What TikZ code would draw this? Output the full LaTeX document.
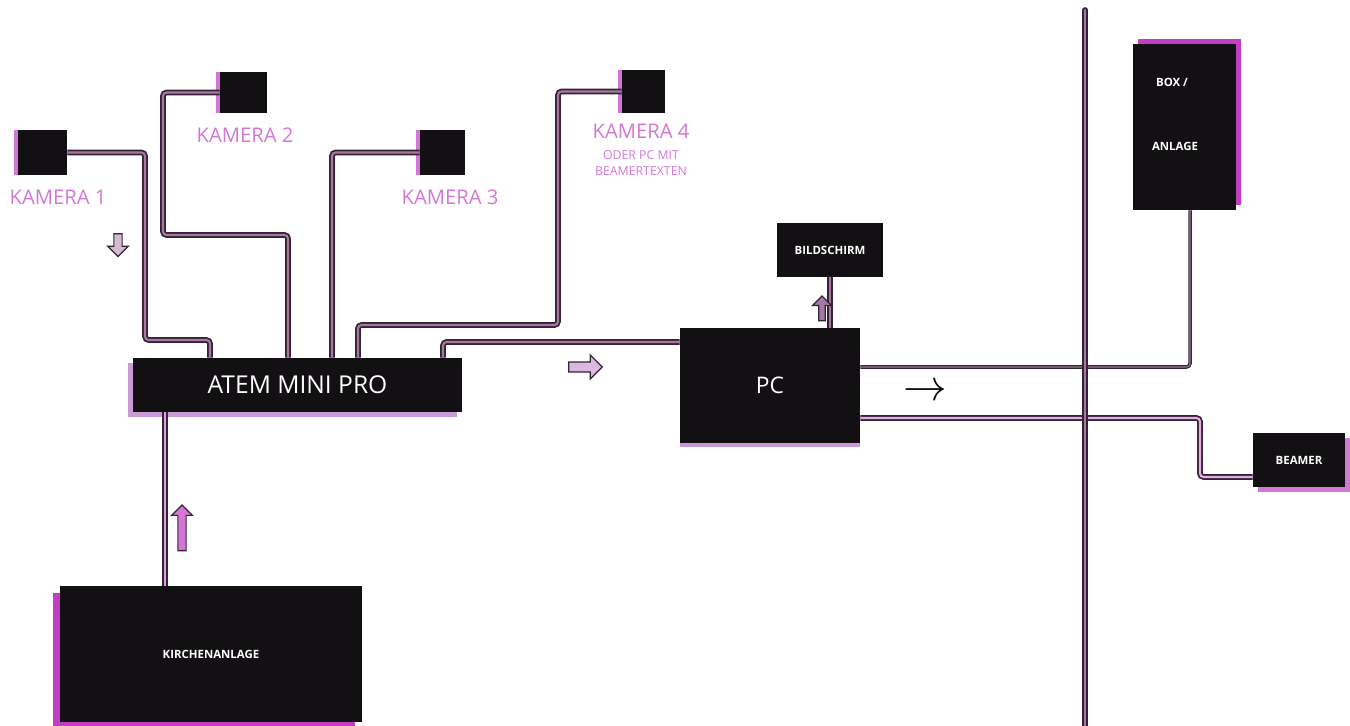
\documentclass[tikz,border=0pt]{standalone}
\usepackage{fontspec}
\setmainfont{Open Sans}
\usetikzlibrary{positioning,shadows,shapes.arrows}
\definecolor{boxblack}{HTML}{121012}
\definecolor{hotpink}{HTML}{C23CC4}
\definecolor{lilac}{HTML}{C99AD6}
\definecolor{campink}{HTML}{D277D6}
\definecolor{cabledark}{HTML}{362234}
\definecolor{cablelight}{HTML}{A57AA2}

\begin{document}
\begin{tikzpicture}[x=0.02cm,y=-0.02cm,>=stealth,font=\small,
  dev/.style={fill=boxblack,text=white,inner sep=0pt,align=center},
  cam/.style={fill=boxblack,inner sep=0pt,general shadow={fill=campink,shadow xshift=-2.5pt}},
  camlabel/.style={text=campink,font=\fontsize{11.5}{13}\selectfont,align=center},
  tiny/.style={font=\fontsize{6.5}{8}\selectfont\bfseries},
  cable/.style={draw=cabledark,double=cablelight,double distance=1.2pt,line width=1pt,rounded corners=2pt},
  thincable/.style={draw=cabledark,double=cablelight!60!gray,double distance=0.6pt,line width=0.7pt,rounded corners=2pt},
  hollow/.style={single arrow,draw=cabledark,line width=0.7pt,inner sep=2pt,single arrow head extend=3.5pt}]
  \useasboundingbox (0,0) rectangle (1350,726);
  % kameras
  \node[cam,minimum width=0.98cm,minimum height=0.9cm] (kam1) at (42.5,152.5) {};
  \node[cam,minimum width=0.94cm,minimum height=0.82cm] (kam2) at (243.5,92.5) {};
  \node[cam,minimum width=0.9cm,minimum height=0.9cm] (kam3) at (442.5,152.5) {};
  \node[cam,minimum width=0.86cm,minimum height=0.86cm] (kam4) at (643.5,91.5) {};
  \node[camlabel] (lab1) at (58,197) {KAMERA 1};
  \node[camlabel] (lab2) at (245,135) {KAMERA 2};
  \node[camlabel] (lab3) at (450,197) {KAMERA 3};
  \node[camlabel] (lab4) at (641,150) {KAMERA 4\\[-1pt]{\fontsize{7}{8}\selectfont ODER PC MIT}\\[-4pt]{\fontsize{7}{8}\selectfont BEAMERTEXTEN}};
  % geraete
  \node[dev,minimum width=6.58cm,minimum height=1.08cm,font=\fontsize{14}{16}\selectfont,
    general shadow={fill=lilac,shadow xshift=-3pt,shadow yshift=-3pt}] (atem) at (297.5,385) {ATEM MINI PRO};
  \node[dev,tiny,minimum width=6.04cm,minimum height=2.72cm,
    general shadow={fill=hotpink,shadow xshift=-4pt,shadow yshift=-4pt}] (kirche) at (211,654) {KIRCHENANLAGE};
  \node[dev,minimum width=3.6cm,minimum height=2.3cm,font=\fontsize{13}{15}\selectfont,
    general shadow={fill=lilac,shadow yshift=-2.5pt}] (pc) at (770,385.5) {PC};
  \node[dev,tiny,minimum width=2.12cm,minimum height=1.08cm] (bild) at (830,250) {BILDSCHIRM};
  \node[dev,minimum width=2.06cm,minimum height=3.32cm,
    general shadow={fill=hotpink,shadow xshift=3pt,shadow yshift=3pt}] (anlage) at (1184.5,127) {};
  \node[text=white,tiny] (box1) at (1172,82) {BOX /};
  \node[text=white,tiny] (box2) at (1175,146) {ANLAGE};
  \node[dev,tiny,minimum width=1.84cm,minimum height=1.08cm,
    general shadow={fill=campink,shadow xshift=3pt,shadow yshift=-3pt}] (beamer) at (1299,460) {BEAMER};
  % kabel
  \draw[cable] (kam1.east) -| (145,340) -| (atem.north -| 210,0);
  \draw[cable] (kam2.west) -| (163,235) -| (atem.north -| 288,0);
  \draw[cable] (kam3.west) -| (atem.north -| 332,0);
  \draw[cable] (kam4.west) -| (558,325) -| (atem.north -| 358,0);
  \draw[cable] (atem.north -| 443,0) |- (pc.west |- 0,342);
  \draw[cable,double=campink!70] (kirche.north -| 165,0) -- (atem.south -| 165,0);
  \draw[cable] (pc.north -| bild.south) -- (bild.south);
  \draw[thincable] (pc.east |- 0,367) -| (anlage.south -| 1190,0);
  \draw[cable,double=campink!60] (pc.east |- 0,418) -| (1200,477) -- (beamer.west |- 0,477);
  \draw[cable,line cap=round] (1085,10) -- (1085,726);
  % pfeile
  \node[hollow,fill=cablelight!50,minimum height=13pt,rotate=-90] (hint1) at (118,243) {};
  \node[hollow,fill=lilac!70,minimum height=19pt,inner sep=2.5pt,single arrow head extend=4pt] (hint2) at (583,367) {};
  \node[hollow,fill=campink,minimum height=26pt,rotate=90] (hint3) at (182,530) {};
  \node[hollow,fill=cablelight,minimum height=14pt,inner sep=1.5pt,rotate=90] (hint4) at (822,310) {};
  \node[font=\fontsize{24}{24}\selectfont] (hint5) at (925,392) {$\rightarrow$};
\end{tikzpicture}
\end{document}
